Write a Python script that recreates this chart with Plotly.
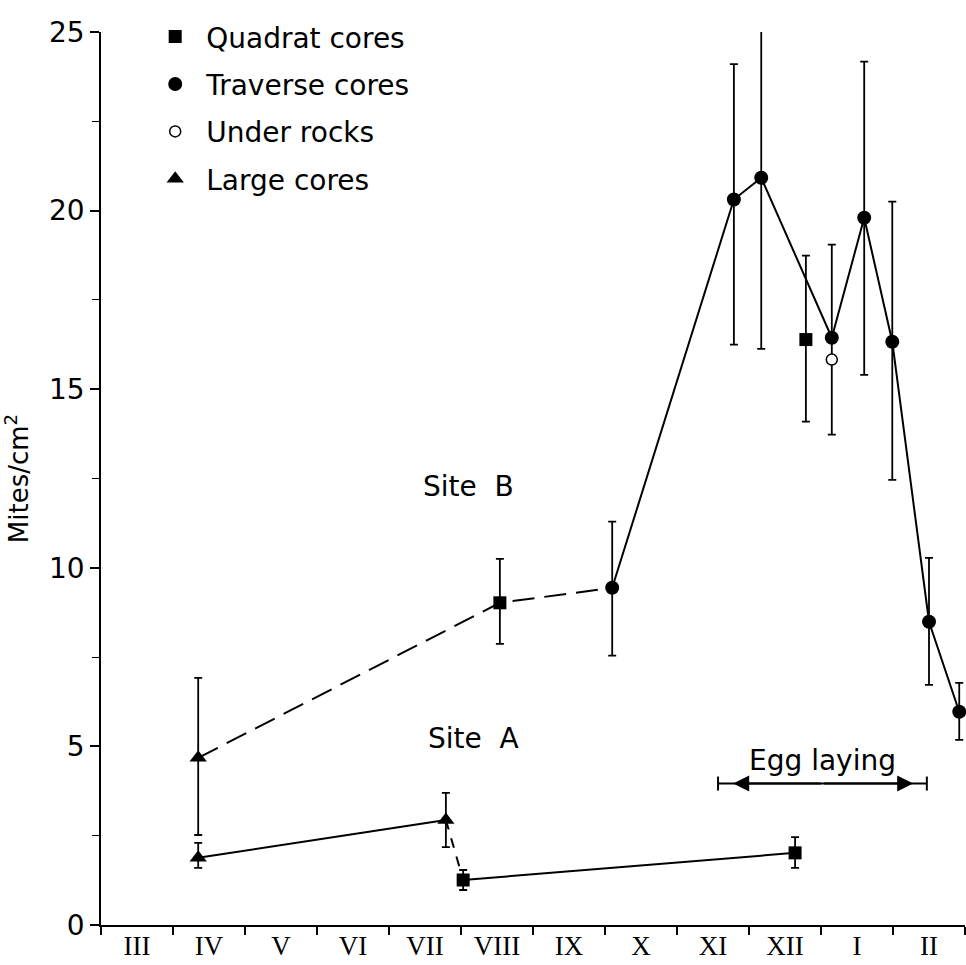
import plotly.graph_objects as go

# ---------------- data (x in months from start of March; y in mites/cm2) ----------------
months = ["III", "IV", "V", "VI", "VII", "VIII", "IX", "X", "XI", "XII", "I", "II"]

# Quadrat cores (filled squares)
quad_x = [5.54, 9.79, 5.03, 9.64]
quad_y = [9.02, 16.39, 1.26, 2.02]
quad_hi = [10.25, 18.74, 1.54, 2.46]
quad_lo = [7.87, 14.09, 0.98, 1.60]

# Traverse cores (filled circles)
trav_x = [7.10, 8.79, 9.17, 10.15, 10.60, 10.99, 11.50, 11.92]
trav_y = [9.44, 20.31, 20.92, 16.44, 19.80, 16.33, 8.49, 5.97]
trav_hi = [11.29, 24.10, 25.60, 19.05, 24.17, 20.25, 10.28, 6.78]
trav_lo = [7.54, 16.25, 16.13, 13.73, 15.40, 12.46, 6.72, 5.18]

# Under rocks (open circle)
rock_x = [10.15]
rock_y = [15.83]

# Large cores (filled triangles)
large_x = [1.35, 4.79, 1.35]
large_y = [4.68, 2.94, 1.88]
large_hi = [6.92, 3.70, 2.30]
large_lo = [2.52, 2.18, 1.60]

# Egg laying period
egg_bounds = [8.57, 11.47]
egg_tips = [8.78, 11.28]
egg_y = 3.96

# connections (kind, index)
site_b_dashed = [("large", 0), ("quad", 0), ("trav", 0)]
site_b_solid = [("trav", i) for i in range(len(trav_x))]
site_a_solid1 = [("large", 2), ("large", 1)]
site_a_dashed = [("large", 1), ("quad", 2)]
site_a_solid2 = [("quad", 2), ("quad", 3)]

pts = {"large": (large_x, large_y), "quad": (quad_x, quad_y), "trav": (trav_x, trav_y)}


def seg(lst):
    return [pts[k][0][i] for k, i in lst], [pts[k][1][i] for k, i in lst]


BLACK = "black"
fig = go.Figure()

for lst, dash in [(site_b_dashed, "22px,10px"), (site_b_solid, "solid"),
                  (site_a_solid1, "solid"), (site_a_dashed, "10px,9px"),
                  (site_a_solid2, "solid")]:
    xs, ys = seg(lst)
    fig.add_trace(go.Scatter(x=xs, y=ys, mode="lines", showlegend=False,
                             line=dict(color=BLACK, width=2, dash=dash), hoverinfo="skip"))


def err(y, hi, lo):
    return dict(type="data", symmetric=False,
                array=[h - v for h, v in zip(hi, y)],
                arrayminus=[v - l for v, l in zip(y, lo)],
                color=BLACK, thickness=1.8, width=4)


fig.add_trace(go.Scatter(x=quad_x, y=quad_y, mode="markers", name="Quadrat cores",
                         legendgroup="a", error_y=err(quad_y, quad_hi, quad_lo),
                         marker=dict(symbol="square", size=13, color=BLACK)))
fig.add_trace(go.Scatter(x=trav_x, y=trav_y, mode="markers", name="Traverse cores",
                         legendgroup="b", error_y=err(trav_y, trav_hi, trav_lo),
                         cliponaxis=False,
                         marker=dict(symbol="circle", size=14, color=BLACK)))
fig.add_trace(go.Scatter(x=rock_x, y=rock_y, mode="markers", name="Under rocks",
                         legendgroup="c",
                         marker=dict(symbol="circle", size=11, color="white",
                                     line=dict(color=BLACK, width=1.5))))
fig.add_trace(go.Scatter(x=large_x, y=large_y, mode="markers", name="Large cores",
                         legendgroup="d", error_y=err(large_y, large_hi, large_lo),
                         marker=dict(symbol="triangle-up", size=15, color=BLACK)))

# egg laying bar
fig.add_trace(go.Scatter(x=egg_bounds, y=[egg_y, egg_y], mode="lines+markers",
                         showlegend=False, hoverinfo="skip",
                         line=dict(color=BLACK, width=2),
                         marker=dict(symbol="line-ns", size=10,
                                     line=dict(color=BLACK, width=2))))
mid = sum(egg_bounds) / 2
for tip in egg_tips:
    fig.add_annotation(x=tip, y=egg_y, ax=mid, ay=egg_y, axref="x", ayref="y",
                       xref="x", yref="y", text="", showarrow=True,
                       arrowhead=2, arrowsize=1.6, arrowwidth=2, arrowcolor=BLACK)

SANS = "DejaVu Sans"
fig.add_annotation(x=mid, y=4.6, xref="x", yref="y",
                   text="Egg laying", showarrow=False,
                   font=dict(family=SANS, size=28, color=BLACK))
fig.add_annotation(x=5.1, y=12.27, xref="x", yref="y", text="Site  B", showarrow=False,
                   font=dict(family=SANS, size=28, color=BLACK))
fig.add_annotation(x=5.17, y=5.21, xref="x", yref="y", text="Site  A", showarrow=False,
                   font=dict(family=SANS, size=28, color=BLACK))

fig.update_layout(
    width=966, height=965,
    margin=dict(l=101, r=1, t=32, b=40),
    paper_bgcolor="white", plot_bgcolor="white",
    font=dict(family=SANS, color=BLACK),
    legend=dict(x=0.05, y=1.0225, xanchor="left", yanchor="top",
                font=dict(family=SANS, size=28, color=BLACK),
                itemwidth=52,
                tracegroupgap=8, bgcolor="rgba(0,0,0,0)"),
    xaxis=dict(range=[0, 12], showgrid=False, zeroline=False, automargin=False,
               showline=True, linecolor=BLACK, linewidth=1.5,
               tickvals=[i + 0.5 for i in range(len(months))], ticktext=months,
               ticks="", ticklabelstandoff=-4,
               tickfont=dict(family="Liberation Serif", size=27, color=BLACK),
               minor=dict(dtick=1, tick0=0, ticks="outside", ticklen=8,
                          tickcolor=BLACK, tickwidth=1.5)),
    yaxis=dict(range=[0, 25], showgrid=False, zeroline=False, automargin=False,
               showline=True, linecolor=BLACK, linewidth=1.5,
               tickvals=[0, 5, 10, 15, 20, 25], ticks="outside", ticklen=9,
               tickwidth=1.5, tickcolor=BLACK,
               tickfont=dict(family=SANS, size=28, color=BLACK),
               minor=dict(dtick=2.5, tick0=0, ticks="outside", ticklen=7,
                          tickcolor=BLACK, tickwidth=1.2),
               title=dict(text="Mites/cm<sup>2</sup>", standoff=18,
                          font=dict(family=SANS, size=26, color=BLACK))),
)

fig.write_html("out.html")
